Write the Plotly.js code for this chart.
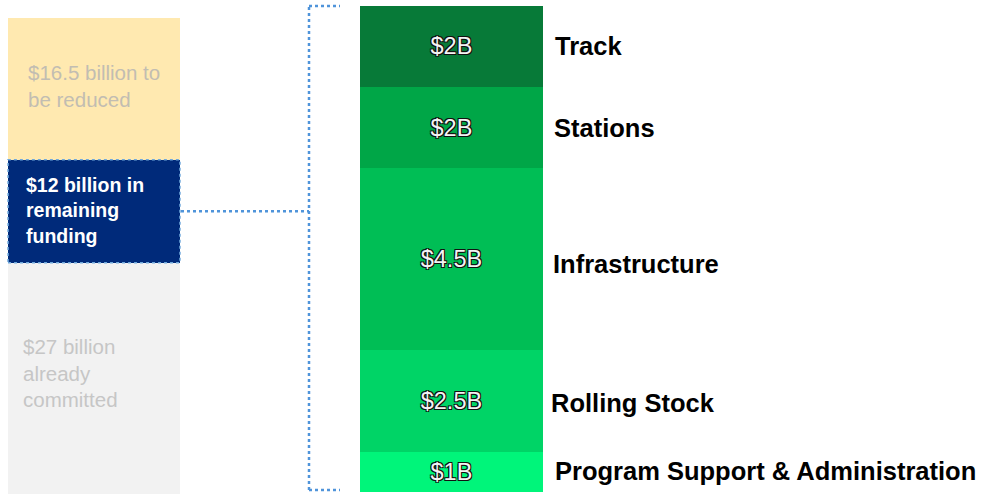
<!DOCTYPE html>
<html>
<head>
<meta charset="utf-8">
<script src="https://cdn.plot.ly/plotly-3.0.1.min.js"></script>
<style>html,body{margin:0;padding:0;background:#fff;}#chart{width:984px;height:495px;}</style>
</head>
<body>
<div id="chart"></div>
<script>
// ---- Data ----
const leftCategory = 'Total';
const leftNames = ['Already committed', 'Remaining funding', 'To be reduced'];
const leftValues = [27, 12, 16.5];
const leftLabels = ['$27 billion<br>already<br>committed', '$12 billion in<br>remaining<br>funding', '$16.5 billion to<br>be reduced'];

const rightCategory = 'Remaining';
const rightNames = ['Program Support & Administration', 'Rolling Stock', 'Infrastructure', 'Stations', 'Track'];
const rightValues = [1, 2.5, 4.5, 2, 2];
const rightLabels = ['$1B', '$2.5B', '$4.5B', '$2B', '$2B'];

// ---- Styles ----
const leftColors = ['#F2F2F2', '#002A7A', '#FFE9B0'];
const leftTextColors = ['#C6C6C6', '#FFFFFF', '#C2BDB2'];
const leftTextBold = [false, true, false];
const leftTextShift = [[-73, 6], [-70, 1], [-68, 3]];
const rightColors = ['#00F57A', '#00D466', '#00BE55', '#00A647', '#077A38'];
const leftWidth = 0.481, rightWidth = 0.512;
const FONT = 'Liberation Sans, Arial, Helvetica, sans-serif';
const dotBlue = '#4F94DA';

const traces = [];
leftValues.forEach((v, i) => {
  traces.push({
    type: 'bar', name: leftNames[i], x: [leftCategory], y: [v],
    width: [leftWidth], marker: {color: leftColors[i], line: {width: 0}},
    xaxis: 'x', yaxis: 'y', hoverinfo: 'none'
  });
});
rightValues.forEach((v, i) => {
  traces.push({
    type: 'bar', name: rightNames[i], x: [rightCategory], y: [v],
    width: [rightWidth], marker: {color: rightColors[i], line: {width: 0}},
    text: [rightLabels[i]], textposition: 'inside', insidetextanchor: 'middle',
    textangle: 0, constraintext: 'none',
    textfont: {family: FONT, size: 23.5, color: '#F4F4F4',
      shadow: '-1px -1px 0 #111, 1px -1px 0 #111, -1px 1px 0 #111, 1px 1px 0 #111'},
    xaxis: 'x', yaxis: 'y2', hoverinfo: 'none'
  });
});

const annotations = [];
let cum = 0;
leftValues.forEach((v, i) => {
  const mid = cum + v / 2; cum += v;
  annotations.push({
    xref: 'x', yref: 'y', x: 0, y: mid, xanchor: 'left', yanchor: 'middle',
    xshift: leftTextShift[i][0], yshift: leftTextShift[i][1],
    text: leftTextBold[i] ? '<b>' + leftLabels[i] + '</b>' : leftLabels[i],
    align: 'left', showarrow: false,
    font: {family: FONT, size: leftTextBold[i] ? 19.5 : 20.5, color: leftTextColors[i]}
  });
});
const rightShift = [[0, 1], [-4, -2], [-2, -5], [-1, 0], [0, 0]];
cum = 0;
rightValues.forEach((v, i) => {
  const mid = cum + v / 2; cum += v;
  annotations.push({
    xref: 'paper', yref: 'y2', x: 553 / 984, y: mid, xanchor: 'left', yanchor: 'middle',
    xshift: rightShift[i][0], yshift: rightShift[i][1],
    text: '<b>' + rightNames[i] + '</b>', showarrow: false,
    font: {family: FONT, size: 25.5, color: '#000000'}
  });
});

const rightTotal = rightValues.reduce((a, b) => a + b, 0);
const navyBottom = leftValues[0], navyTop = leftValues[0] + leftValues[1];
const bx = 309 / 984, bxEnd = 340 / 984;
const dotLine = {color: dotBlue, width: 2.5, dash: 'dot'};
const shapes = [
  {type: 'rect', xref: 'x', yref: 'y', x0: -leftWidth / 2, x1: leftWidth / 2, y0: navyBottom, y1: navyTop,
   line: {color: '#6FA8DC', width: 1.5, dash: 'dot'}},
  {type: 'line', xref: 'paper', yref: 'y', x0: 181 / 984, x1: bx, y0: (navyBottom + navyTop) / 2, y1: (navyBottom + navyTop) / 2, line: dotLine},
  {type: 'line', xref: 'paper', yref: 'y2', x0: bx, x1: bx, y0: 0.05, y1: rightTotal, line: dotLine},
  {type: 'line', xref: 'paper', yref: 'y2', x0: bx, x1: bxEnd, y0: rightTotal, y1: rightTotal, line: dotLine},
  {type: 'line', xref: 'paper', yref: 'y2', x0: bx, x1: bxEnd, y0: 0.05, y1: 0.05, line: dotLine}
];

const layout = {
  width: 984, height: 495,
  margin: {l: 0, r: 0, t: 0, b: 0, pad: 0},
  paper_bgcolor: '#FFFFFF', plot_bgcolor: '#FFFFFF',
  barmode: 'stack', showlegend: false, bargap: 0,
  xaxis: {type: 'category', range: [-0.263, 2.49], visible: false, fixedrange: true},
  yaxis: {range: [-0.06, 57.63], visible: false, fixedrange: true},
  yaxis2: {range: [-0.074, 12.148], overlaying: 'y', visible: false, fixedrange: true},
  annotations: annotations,
  shapes: shapes,
  font: {family: FONT}
};

Plotly.newPlot('chart', traces, layout, {displayModeBar: false, staticPlot: true});
</script>
</body>
</html>
